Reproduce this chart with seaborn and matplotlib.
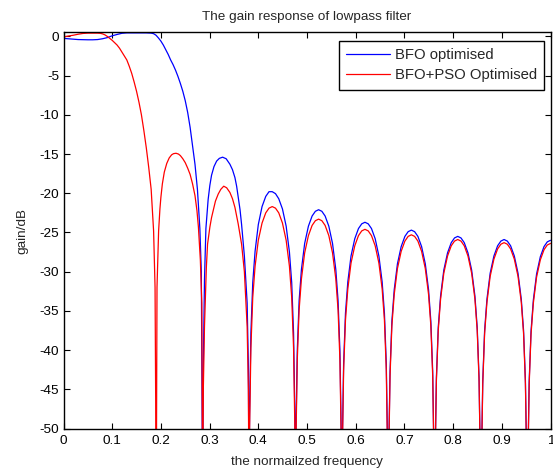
import matplotlib
matplotlib.use("Agg")
import matplotlib.pyplot as plt
import seaborn as sns
import pandas as pd

# ---------------- data ----------------
# BFO optimised (blue)
freq_bfo = [
    # passband / main lobe
    0.0, 0.01, 0.02, 0.03, 0.04, 0.05, 0.06, 0.07, 0.08, 0.09, 0.10, 0.11, 0.12,
    0.13, 0.14, 0.15, 0.16, 0.17, 0.18, 0.185, 0.19, 0.195, 0.20, 0.205, 0.21,
    0.215, 0.22, 0.225, 0.23, 0.235, 0.24, 0.245, 0.25, 0.255, 0.26, 0.265,
    0.27, 0.275, 0.28, 0.283, 0.2857,
    # side lobe 1
    0.2871, 0.2895, 0.2924, 0.297, 0.3005, 0.304, 0.309, 0.3144, 0.320, 0.3267,
    0.334, 0.3417, 0.347, 0.352, 0.3555, 0.3587, 0.3625, 0.3657, 0.3714, 0.3771,
    0.3796, 0.3810,
    # side lobe 2
    0.3821, 0.3848, 0.3886, 0.3934, 0.4000, 0.4077, 0.4153, 0.4220, 0.4286,
    0.4353, 0.4420, 0.4496, 0.4572, 0.4639, 0.4686, 0.4724, 0.4751, 0.4762,
    # side lobe 3
    0.4773, 0.4800, 0.4838, 0.4886, 0.4952, 0.5029, 0.5105, 0.5172, 0.5238,
    0.5305, 0.5372, 0.5448, 0.5524, 0.5591, 0.5638, 0.5676, 0.5703, 0.5714,
    # side lobe 4
    0.5725, 0.5752, 0.5790, 0.5838, 0.5904, 0.5981, 0.6057, 0.6124, 0.6190,
    0.6257, 0.6324, 0.6400, 0.6476, 0.6543, 0.6590, 0.6628, 0.6655, 0.6667,
    # side lobe 5
    0.6678, 0.6705, 0.6743, 0.6791, 0.6857, 0.6934, 0.7010, 0.7077, 0.7143,
    0.7210, 0.7277, 0.7353, 0.7429, 0.7496, 0.7543, 0.7581, 0.7608, 0.7619,
    # side lobe 6
    0.7630, 0.7657, 0.7695, 0.7743, 0.7809, 0.7886, 0.7962, 0.8029, 0.8095,
    0.8162, 0.8229, 0.8305, 0.8381, 0.8448, 0.8495, 0.8533, 0.8560, 0.8571,
    # side lobe 7
    0.8582, 0.8609, 0.8647, 0.8695, 0.8761, 0.8838, 0.8914, 0.8981, 0.9047,
    0.9114, 0.9181, 0.9257, 0.9333, 0.9400, 0.9447, 0.9485, 0.9512, 0.9524,
    # side lobe 8 (half)
    0.9535, 0.9562, 0.9600, 0.9648, 0.9714, 0.9791, 0.9867, 0.9934, 1.0,
]
gain_bfo = [
    -0.25, -0.3, -0.35, -0.4, -0.42, -0.43, -0.43, -0.4, -0.3, -0.15, 0.08, 0.25, 0.4,
    0.45, 0.45, 0.45, 0.45, 0.45, 0.42, 0.35, 0.15, -0.2, -0.6, -1.1, -1.7,
    -2.3, -3.0, -3.6, -4.3, -5.1, -6.0, -7.0, -8.2, -9.7, -11.6, -14.0,
    -16.3, -19.5, -24.5, -30.0, -60.0,
    -42.0, -31.0, -24.5, -20.8, -19.0, -17.7, -16.6, -15.9, -15.55, -15.4,
    -15.6, -16.3, -17.0, -18.0, -19.1, -20.5, -22.1, -24.0, -28.0, -34.0,
    -42.0, -60.0,
    -48.2, -37.8, -31.4, -27.4, -24.0, -21.7, -20.4, -19.8, -19.8,
    -20.05, -20.7, -22.0, -24.2, -27.5, -31.4, -37.8, -48.2, -60.0,
    -50.5, -40.1, -33.7, -29.7, -26.4, -24.2, -22.9, -22.3, -22.1,
    -22.3, -22.9, -24.2, -26.4, -29.7, -33.7, -40.1, -50.5, -60.0,
    -52.1, -41.7, -35.3, -31.3, -28.0, -25.8, -24.5, -23.9, -23.7,
    -23.9, -24.5, -25.8, -28.0, -31.3, -35.3, -41.7, -52.1, -60.0,
    -53.1, -42.7, -36.3, -32.3, -29.0, -26.8, -25.5, -24.9, -24.7,
    -24.9, -25.5, -26.8, -29.0, -32.3, -36.3, -42.7, -53.1, -60.0,
    -53.9, -43.5, -37.1, -33.1, -29.8, -27.6, -26.3, -25.7, -25.5,
    -25.7, -26.3, -27.6, -29.8, -33.1, -37.1, -43.5, -53.9, -60.0,
    -54.3, -43.9, -37.5, -33.5, -30.2, -28.0, -26.7, -26.1, -25.9,
    -26.1, -26.7, -28.0, -30.2, -33.5, -37.5, -43.9, -54.3, -60.0,
    -54.4, -44.0, -37.6, -33.6, -30.3, -28.1, -26.8, -26.2, -26.0,
]

# BFO+PSO Optimised (red)
freq_pso = [
    # passband / main lobe
    0.0, 0.01, 0.02, 0.03, 0.04, 0.05, 0.06, 0.07, 0.075, 0.08, 0.085, 0.09,
    0.095, 0.10, 0.105, 0.11, 0.115, 0.12, 0.125, 0.13, 0.135, 0.14, 0.145,
    0.15, 0.155, 0.16, 0.165, 0.17, 0.175, 0.18, 0.185, 0.188, 0.1905,
    # side lobe 1
    0.192, 0.1953, 0.198, 0.20, 0.203, 0.207, 0.212, 0.217, 0.222, 0.226,
    0.231, 0.236, 0.24, 0.245, 0.25, 0.255, 0.26, 0.265, 0.27, 0.274, 0.277,
    0.281, 0.284, 0.2857,
    # side lobe 2
    0.2871, 0.2895, 0.2933, 0.2958, 0.3006, 0.304, 0.3074, 0.312, 0.3177,
    0.323, 0.329, 0.335, 0.3417, 0.347, 0.352, 0.3587, 0.3657, 0.3714, 0.3771,
    0.3796, 0.3810,
    # side lobe 3
    0.3821, 0.3848, 0.3886, 0.3934, 0.4000, 0.4077, 0.4153, 0.4220, 0.4286,
    0.4353, 0.4420, 0.4496, 0.4572, 0.4639, 0.4686, 0.4724, 0.4751, 0.4762,
    # side lobe 4
    0.4773, 0.4800, 0.4838, 0.4886, 0.4952, 0.5029, 0.5105, 0.5172, 0.5238,
    0.5305, 0.5372, 0.5448, 0.5524, 0.5591, 0.5638, 0.5676, 0.5703, 0.5714,
    # side lobe 5
    0.5725, 0.5752, 0.5790, 0.5838, 0.5904, 0.5981, 0.6057, 0.6124, 0.6190,
    0.6257, 0.6324, 0.6400, 0.6476, 0.6543, 0.6590, 0.6628, 0.6655, 0.6667,
    # side lobe 6
    0.6678, 0.6705, 0.6743, 0.6791, 0.6857, 0.6934, 0.7010, 0.7077, 0.7143,
    0.7210, 0.7277, 0.7353, 0.7429, 0.7496, 0.7543, 0.7581, 0.7608, 0.7619,
    # side lobe 7
    0.7630, 0.7657, 0.7695, 0.7743, 0.7809, 0.7886, 0.7962, 0.8029, 0.8095,
    0.8162, 0.8229, 0.8305, 0.8381, 0.8448, 0.8495, 0.8533, 0.8560, 0.8571,
    # side lobe 8
    0.8582, 0.8609, 0.8647, 0.8695, 0.8761, 0.8838, 0.8914, 0.8981, 0.9047,
    0.9114, 0.9181, 0.9257, 0.9333, 0.9400, 0.9447, 0.9485, 0.9512, 0.9524,
    # side lobe 9 (half)
    0.9535, 0.9562, 0.9600, 0.9648, 0.9714, 0.9791, 0.9867, 0.9934, 1.0,
]
gain_pso = [
    -0.07, 0.05, 0.15, 0.28, 0.38, 0.42, 0.42, 0.42, 0.4, 0.33, 0.2, 0.0,
    -0.25, -0.5, -0.8, -1.1, -1.5, -2.0, -2.5, -3.0, -3.8, -4.7, -5.8,
    -7.0, -8.4, -10.0, -12.0, -14.2, -16.7, -19.5, -24.8, -32.0, -60.0,
    -32.0, -24.8, -22.0, -20.5, -18.8, -17.3, -16.2, -15.5, -15.1, -14.95,
    -14.9, -15.0, -15.2, -15.6, -16.1, -16.8, -17.6, -18.8, -20.3, -22.2, -24.3,
    -28.5, -34.0, -60.0,
    -45.0, -37.0, -29.5, -26.5, -24.3, -23.1, -22.2, -21.0, -20.1,
    -19.5, -19.1, -19.3, -19.9, -20.7, -21.8, -23.9, -26.5, -30.0, -37.0,
    -45.0, -60.0,
    -50.1, -39.7, -33.3, -29.3, -26.0, -23.8, -22.5, -21.9, -21.7,
    -21.9, -22.5, -23.8, -26.0, -29.3, -33.3, -39.7, -50.1, -60.0,
    -51.7, -41.3, -34.9, -30.9, -27.6, -25.4, -24.1, -23.5, -23.3,
    -23.5, -24.1, -25.4, -27.6, -30.9, -34.9, -41.3, -51.7, -60.0,
    -53.0, -42.6, -36.2, -32.2, -28.9, -26.7, -25.4, -24.8, -24.6,
    -24.8, -25.4, -26.7, -28.9, -32.2, -36.2, -42.6, -53.0, -60.0,
    -53.7, -43.3, -36.9, -32.9, -29.6, -27.4, -26.1, -25.5, -25.3,
    -25.5, -26.1, -27.4, -29.6, -32.9, -36.9, -43.3, -53.7, -60.0,
    -54.3, -43.9, -37.5, -33.5, -30.2, -28.0, -26.7, -26.1, -25.9,
    -26.1, -26.7, -28.0, -30.2, -33.5, -37.5, -43.9, -54.3, -60.0,
    -54.7, -44.3, -37.9, -33.9, -30.6, -28.4, -27.1, -26.5, -26.3,
    -26.5, -27.1, -28.4, -30.6, -33.9, -37.9, -44.3, -54.7, -60.0,
    -54.8, -44.4, -38.0, -34.0, -30.7, -28.5, -27.2, -26.6, -26.4,
]

series_names = ["BFO optimised", "BFO+PSO Optimised"]
series_colors = ["#0000ff", "#ff0000"]

x_ticks = [0, 0.1, 0.2, 0.3, 0.4, 0.5, 0.6, 0.7, 0.8, 0.9, 1]
x_tick_labels = ["0", "0.1", "0.2", "0.3", "0.4", "0.5", "0.6", "0.7", "0.8", "0.9", "1"]
y_ticks = [0, -5, -10, -15, -20, -25, -30, -35, -40, -45, -50]
y_tick_labels = ["0", "-5", "-10", "-15", "-20", "-25", "-30", "-35", "-40", "-45", "-50"]

# ---------------- plotting ----------------
sns.set_theme(style="ticks")
plt.rcParams["font.family"] = ["Liberation Sans", "DejaVu Sans"]

W, H = 553, 469
fig = plt.figure(figsize=(W / 100, H / 100), dpi=100)
ax = fig.add_axes([63.5 / W, 1 - 428.5 / H, 487.0 / W, 396.0 / H])

df_bfo = pd.DataFrame({"f": freq_bfo, "g": gain_bfo})
df_pso = pd.DataFrame({"f": freq_pso, "g": gain_pso})

sns.lineplot(data=df_bfo, x="f", y="g", ax=ax, color=series_colors[0],
             linewidth=0.9, sort=False, estimator=None, label=series_names[0])
sns.lineplot(data=df_pso, x="f", y="g", ax=ax, color=series_colors[1],
             linewidth=0.9, sort=False, estimator=None, label=series_names[1])

ax.set_xlim(0, 1)
ax.set_ylim(-50, 0.5)
ax.set_xticks(x_ticks)
ax.set_xticklabels(x_tick_labels)
ax.set_yticks(y_ticks)
ax.set_yticklabels(y_tick_labels)

fs = 9.7
ax.tick_params(direction="in", length=4, width=0.8, top=True, right=True,
               labelsize=fs, colors="black")
ax.tick_params(axis="x", pad=5)
ax.tick_params(axis="y", pad=3)
for s in ax.spines.values():
    s.set_visible(True)
    s.set_color("black")
    s.set_linewidth(1.0)

ax.set_xlabel("the normailzed frequency", fontsize=fs, labelpad=6)
ax.set_ylabel("gain/dB", fontsize=fs, labelpad=8)
ax.set_title("The gain response of lowpass filter", fontsize=fs, pad=9)

leg = ax.legend(loc="upper right", bbox_to_anchor=(0.987, 0.979), fontsize=10.7,
                frameon=True, fancybox=False, shadow=False, handlelength=2.9,
                handletextpad=0.34, borderpad=0.5, labelspacing=0.4,
                borderaxespad=0.0)
leg.get_frame().set_edgecolor("black")
leg.get_frame().set_linewidth(1.0)
leg.get_frame().set_facecolor("white")
leg.get_frame().set_alpha(1.0)

fig.savefig("out.png", dpi=100)
